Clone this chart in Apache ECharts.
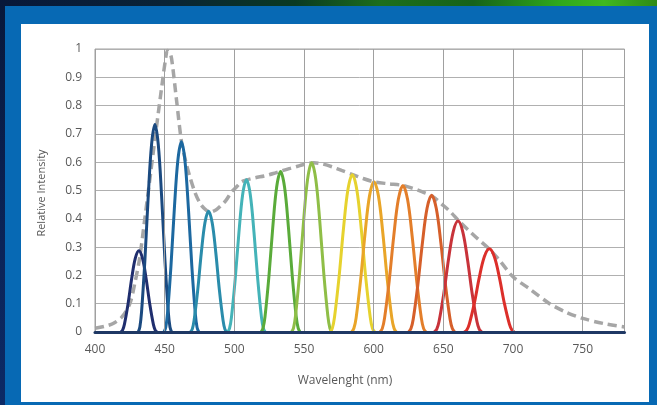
<!DOCTYPE html>
<html>
<head>
<meta charset="utf-8">
<script src="https://cdn.jsdelivr.net/npm/echarts@6/dist/echarts.min.js"></script>
<style>
  html, body { margin: 0; padding: 0; width: 657px; height: 405px; overflow: hidden; background: #0769b4; }
  #topband { position: absolute; left: 0; top: 0; width: 657px; height: 6px;
    background: linear-gradient(90deg, #08183a 0%, #0a2336 25%, #0a3a22 45%, #1d6e1c 58%, #16621a 72%, #2fa81c 85%, #40b81e 92%, #2f8a18 100%); }
  #leftband { position: absolute; left: 0; top: 0; width: 5px; height: 405px;
    background: linear-gradient(180deg, #08183a 0%, #0b2458 60%, #0c2a66 100%); }
  #panel { position: absolute; left: 21px; top: 24px; width: 628px; height: 378px; background: #ffffff; }
  #chart { position: absolute; left: 0; top: 0; width: 657px; height: 405px; }
</style>
</head>
<body>
<div id="topband"></div>
<div id="leftband"></div>
<div id="panel"></div>
<div id="chart"></div>
<script>
// ---- data (wavelength nm, relative intensity) ----
const xTicks = [400, 450, 500, 550, 600, 650, 700, 750];
const yTicks = [0, 0.1, 0.2, 0.3, 0.4, 0.5, 0.6, 0.7, 0.8, 0.9, 1];

const envelope = [[400,0.013],[407,0.02],[413,0.03],[419.5,0.054],[425,0.1],[428.5,0.17],[432,0.26],[436,0.41],[440,0.565],[444,0.72],[448,0.87],[450.5,0.96],[452,0.995],[453.5,0.99],[455,0.965],[458.5,0.82],[462,0.675],[465,0.605],[468,0.55],[472,0.49],[476,0.45],[480,0.43],[483,0.424],[487,0.432],[490,0.445],[494,0.465],[498,0.495],[501,0.51],[505,0.53],[508.5,0.537],[515,0.545],[522,0.552],[528,0.56],[533,0.568],[540,0.578],[547,0.588],[553,0.596],[557,0.598],[563,0.594],[570,0.584],[577,0.571],[584.5,0.557],[592,0.543],[600,0.531],[610,0.524],[621,0.518],[628,0.508],[635,0.495],[642,0.48],[650,0.447],[655,0.425],[661,0.393],[668,0.36],[675,0.328],[683,0.293],[690,0.255],[700,0.195],[712,0.152],[726,0.101],[738,0.07],[750,0.048],[765,0.03],[780,0.018]];

const led431 = [[418.5,0],[419.8,0.007],[421.1,0.027],[423.7,0.099],[426.3,0.188],[428.9,0.26],[431.5,0.287],[434.1,0.26],[436.7,0.188],[439.3,0.099],[441.9,0.027],[443.2,0.007],[444.5,0]];
const led443 = [[431,0],[432.2,0.018],[433.4,0.07],[435.8,0.253],[438.2,0.48],[440.6,0.663],[443,0.733],[445.4,0.663],[447.8,0.48],[450.2,0.253],[452.6,0.07],[453.8,0.018],[455,0]];
const led462 = [[449.5,0],[450.75,0.016],[452,0.064],[454.5,0.232],[457,0.44],[459.5,0.608],[462,0.672],[464.5,0.608],[467,0.44],[469.5,0.232],[472,0.064],[473.25,0.016],[474.5,0]];
const led481 = [[468.5,0],[469.8,0.01],[471.1,0.041],[473.7,0.147],[476.3,0.28],[478.9,0.386],[481.5,0.427],[484.1,0.386],[486.7,0.28],[489.3,0.147],[491.9,0.041],[493.2,0.01],[494.5,0]];
const led509 = [[495.2,0],[496.55,0.013],[497.9,0.051],[500.6,0.186],[503.3,0.352],[506,0.487],[508.7,0.538],[511.4,0.487],[514.1,0.352],[516.8,0.186],[519.5,0.051],[520.85,0.013],[522.2,0]];
const led533 = [[519.2,0],[520.6,0.014],[522,0.054],[524.8,0.196],[527.6,0.371],[530.4,0.513],[533.2,0.567],[536,0.513],[538.8,0.371],[541.6,0.196],[544.4,0.054],[545.8,0.014],[547.2,0]];
const led555 = [[541,0],[542.45,0.014],[543.9,0.057],[546.8,0.206],[549.7,0.392],[552.6,0.541],[555.5,0.598],[558.4,0.541],[561.3,0.392],[564.2,0.206],[567.1,0.057],[568.55,0.014],[570,0]];
const led585 = [[568.7,0],[570.3,0.013],[571.9,0.053],[575.1,0.192],[578.3,0.364],[581.5,0.503],[584.7,0.556],[587.9,0.503],[591.1,0.364],[594.3,0.192],[597.5,0.053],[599.1,0.013],[600.7,0]];
const led600 = [[584.2,0],[585.8,0.013],[587.4,0.05],[590.6,0.183],[593.8,0.348],[597,0.481],[600.2,0.531],[603.4,0.481],[606.6,0.348],[609.8,0.183],[613,0.05],[614.6,0.013],[616.2,0]];
const led621 = [[604.5,0],[606.15,0.012],[607.8,0.049],[611.1,0.179],[614.4,0.339],[617.7,0.469],[621,0.518],[624.3,0.469],[627.6,0.339],[630.9,0.179],[634.2,0.049],[635.85,0.012],[637.5,0]];
const led642 = [[625.1,0],[626.75,0.012],[628.4,0.046],[631.7,0.167],[635,0.316],[638.3,0.437],[641.6,0.483],[644.9,0.437],[648.2,0.316],[651.5,0.167],[654.8,0.046],[656.45,0.012],[658.1,0]];
const led660 = [[643.5,0],[645.2,0.009],[646.9,0.037],[650.3,0.135],[653.7,0.257],[657.1,0.355],[660.5,0.392],[663.9,0.355],[667.3,0.257],[670.7,0.135],[674.1,0.037],[675.8,0.009],[677.5,0]];
const led683 = [[665,0],[666.8,0.007],[668.6,0.028],[672.2,0.101],[675.8,0.193],[679.4,0.266],[683,0.294],[686.6,0.266],[690.2,0.193],[693.8,0.101],[697.4,0.028],[699.2,0.007],[701,0]];

const ledSeries = [led431, led443, led462, led481, led509, led533, led555, led585, led600, led621, led642, led660, led683];
const ledColors = ['#1f2e6e','#1b4a80','#1c68a0','#2a8cab','#44b3b8','#5aab3a','#8fbe47','#e6d22e','#e9a528','#e37e2a','#d65f2a','#c8333a','#dc2f2a'];

const chart = echarts.init(document.getElementById('chart'), null, { renderer: 'canvas' });
const font = '"Open Sans", "Noto Sans", sans-serif';

const series = [{
  type: 'line', data: envelope, showSymbol: false, smooth: 0.3, z: 2,
  lineStyle: { color: '#a6a6a6', width: 3.5, type: [9, 5], cap: 'butt' }
}];
ledSeries.forEach((d, i) => {
  series.push({
    type: 'line', data: d, showSymbol: false, smooth: 0.35, z: 3,
    lineStyle: { color: ledColors[i], width: 3 }
  });
});

chart.setOption({
  animation: false,
  backgroundColor: 'transparent',
  grid: { left: 95, top: 49, right: 32.5, bottom: 73, show: true, borderColor: '#a0a0a0', borderWidth: 1 },
  xAxis: {
    type: 'value', min: 400, max: 780, interval: 50, z: 5,
    axisLine: { show: true, onZero: false, lineStyle: { color: '#1f3864', width: 3 } },
    axisTick: { show: false },
    axisLabel: { color: '#595959', fontSize: 12, fontFamily: font, margin: 12,
      customValues: xTicks },
    splitLine: { show: true, lineStyle: { color: '#a0a0a0', width: 1 } }
  },
  yAxis: {
    type: 'value', min: 0, max: 1, interval: 0.1,
    axisLine: { show: false }, axisTick: { show: false },
    axisLabel: { color: '#595959', fontSize: 12, fontFamily: font, margin: 13,
      formatter: v => String(Math.round(v * 10) / 10) },
    splitLine: { show: true, lineStyle: { color: '#b0b0b0', width: 1 } }
  },
  graphic: [
    { type: 'text', x: 42, y: 193, rotation: Math.PI / 2, z: 10,
      style: { text: 'Relative Intensity', fill: '#595959', font: '11px ' + font, textAlign: 'center', textVerticalAlign: 'middle' } },
    { type: 'text', x: 345, y: 381, z: 10,
      style: { text: 'Wavelenght (nm)', fill: '#595959', font: '12px ' + font, textAlign: 'center', textVerticalAlign: 'middle' } }
  ],
  series: series
});
</script>
</body>
</html>
